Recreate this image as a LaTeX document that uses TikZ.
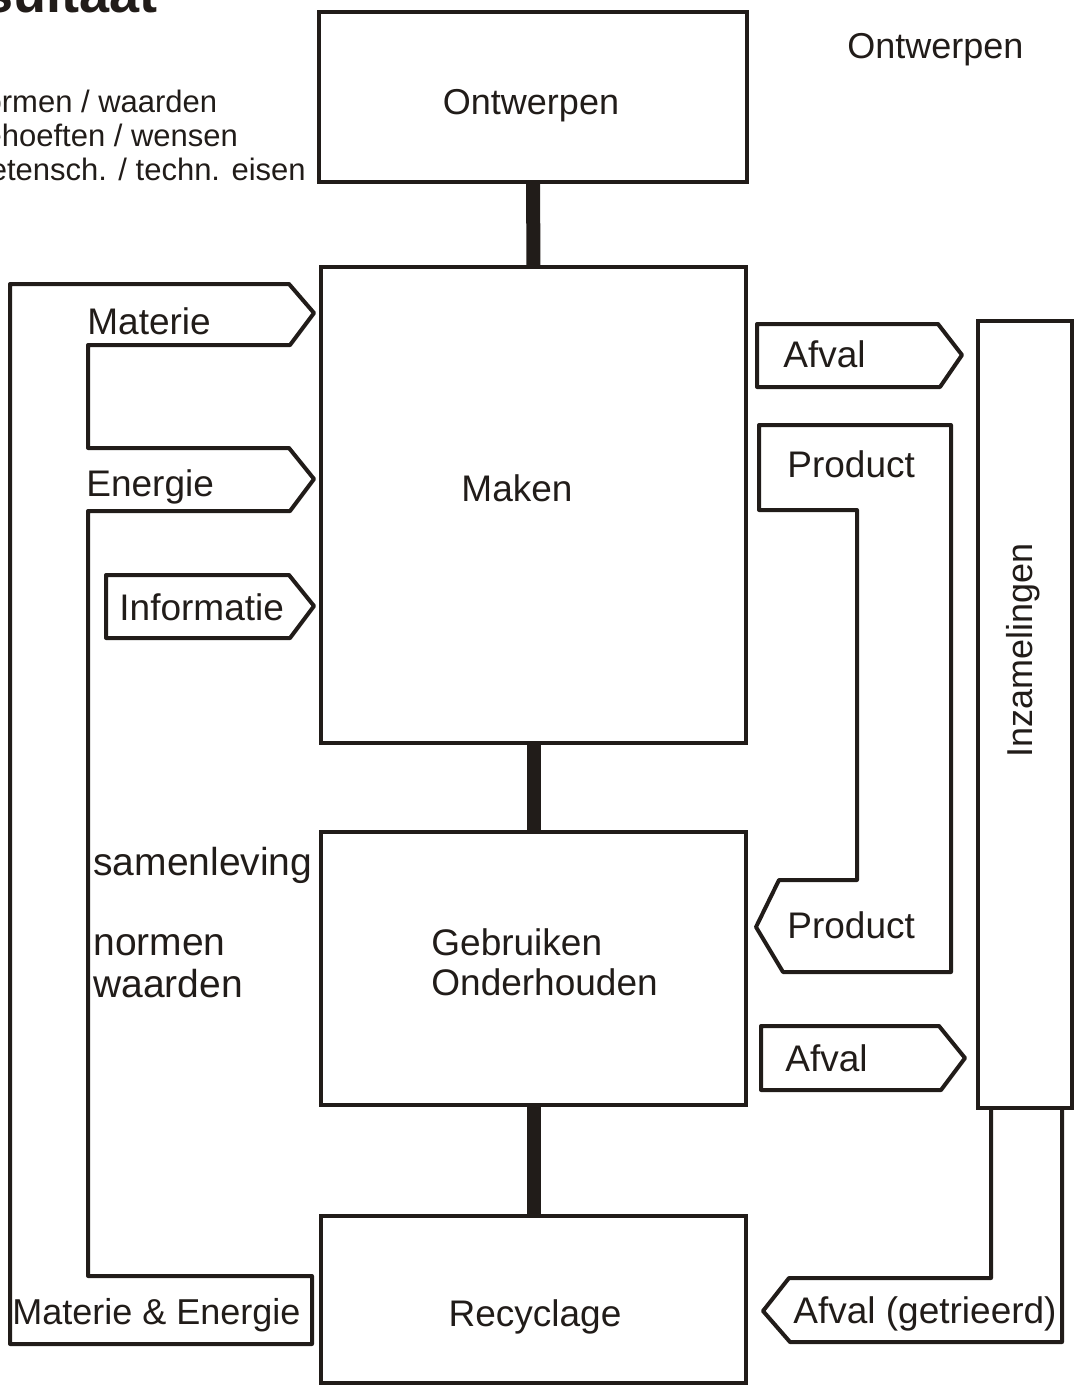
\documentclass[tikz,border=0pt]{standalone}
\usepackage{fontspec}
\setmainfont{Liberation Sans}
\usetikzlibrary{positioning,calc}
\definecolor{LineClr}{rgb}{0.13,0.11,0.10}

\tikzset{
  blok/.style={draw=LineClr,line width=2pt,inner sep=0pt,outer sep=0pt},
  stroom/.style={draw=LineClr,line width=2pt,line join=round,line cap=round},
  stam/.style={draw=LineClr,line width=7pt},
  lbl/.style={anchor=base west,inner sep=0pt,text=LineClr,
    font=\fontsize{18.5}{21}\selectfont},
  tekst/.style={lbl,anchor=base},
}

\begin{document}
\begin{tikzpicture}[x=0.5pt,y=-0.5pt]
\useasboundingbox (0,0) rectangle (1076,1387);

\begin{scope}
\clip (0,0) rectangle (330,200);
\node[anchor=base east,inner sep=0pt,text=LineClr,
  font=\fontsize{27}{30}\selectfont\bfseries] (titel) at (158,12) {Resultaat};
\node[anchor=base west,inner sep=0pt,text=LineClr,align=left,
  font=\fontsize{15.5}{17}\selectfont] (eisen) at (-33,180)
  {normen / waarden\\behoeften / wensen\\wetensch. / techn. eisen};
\end{scope}

\node[blok,minimum width=214pt,minimum height=85pt] (ontw) at (533,97) {};
\node[blok,minimum width=212.5pt,minimum height=238pt] (maken) at (533.5,505) {};
\node[blok,minimum width=212.5pt,minimum height=136.5pt] (gebr) at (533.5,968.5) {};
\node[blok,minimum width=212.5pt,minimum height=83.5pt] (recy) at (533.5,1299.5) {};
\node[blok,minimum width=47pt,minimum height=393.5pt] (inz) at (1025,714.5) {};

\draw[stam] (ontw.south) -- (maken.north);
\draw[stam] (maken.south) -- (gebr.north);
\draw[stam] (gebr.south) -- (recy.north);

\draw[stroom] (10,284) -- (289,284) -- (314,313) -- (290,345) -- (88,345)
  -- (88,448) -- (289,448) -- (314,479) -- (290,511) -- (88,511)
  -- (88,1276) -- (312,1276) -- (312,1344) -- (10,1344) -- cycle;
\draw[stroom] (106,575) -- (289,575) -- (314,606) -- (290,638) -- (106,638) -- cycle;

\draw[stroom] (757,324) -- (938,324) -- (962,355) -- (940,387) -- (757,387) -- cycle;
\draw[stroom] (759,425) -- (951,425) -- (951,972) -- (783,972) -- (756,927)
  -- (779,880) -- (857,880) -- (857,510) -- (759,510) -- cycle;
\draw[stroom] (761,1026) -- (939,1026) -- (965,1058) -- (941,1090) -- (761,1090) -- cycle;
\draw[stroom] (991,1108) -- (991,1278) -- (789,1278) -- (763,1311) -- (790,1342)
  -- (1062,1342) -- (1062,1108);

\node[tekst,font=\fontsize{18}{21}\selectfont] (ontwtxt) at (531,114) {Ontwerpen};
\node[tekst] (makentxt) at (517,501) {Maken};
\node[lbl] (gebrtxt) at (431,955) {Gebruiken};
\node[lbl] (ondtxt) at (431,995) {Onderhouden};
\node[tekst] (recytxt) at (535,1326) {Recyclage};

\node[lbl,font=\fontsize{18}{21}\selectfont] (ontwlbl) at (847,58) {Ontwerpen};
\node[lbl] (materie) at (87,334) {Materie};
\node[lbl] (energie) at (86,496) {Energie};
\node[lbl] (info) at (119,620) {Informatie};
\node[lbl,font=\fontsize{19.5}{21}\selectfont] (samen) at (93,875) {samenleving};
\node[lbl,font=\fontsize{19.5}{21}\selectfont] (normen) at (93,955) {normen};
\node[lbl,font=\fontsize{19.5}{21}\selectfont] (waarden) at (93,997) {waarden};
\node[lbl,font=\fontsize{18}{21}\selectfont] (matener) at (12,1324) {Materie \& Energie};
\node[lbl] (afval1) at (783,367) {Afval};
\node[lbl] (prod1) at (787,477) {Product};
\node[lbl] (prod2) at (787,938) {Product};
\node[lbl] (afval2) at (785,1071) {Afval};
\node[lbl] (afvalget) at (793,1323) {Afval (getrieerd)};
\node[rotate=90,inner sep=0pt,text=LineClr,font=\fontsize{18}{21}\selectfont]
  (inzlbl) at (1023,650) {Inzamelingen};

\end{tikzpicture}
\end{document}
